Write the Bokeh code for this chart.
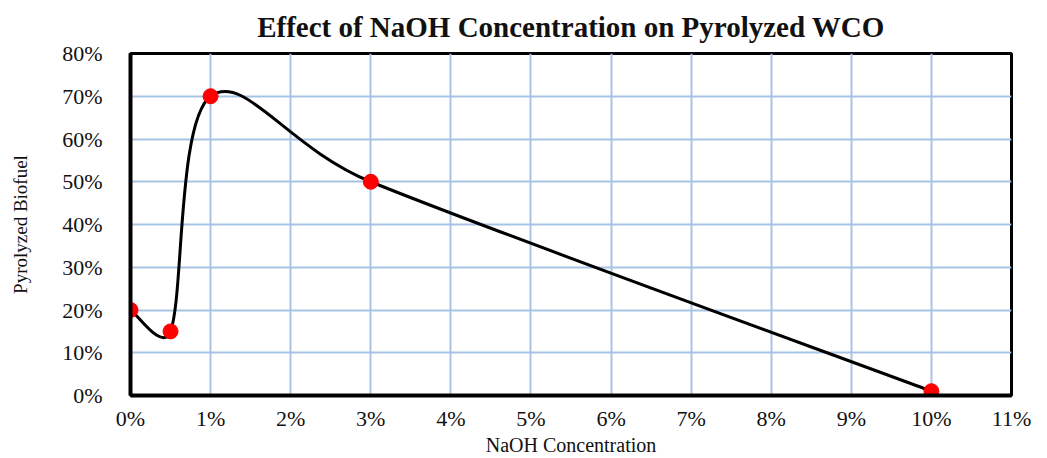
import math
from bokeh.plotting import figure
from bokeh.models import NumeralTickFormatter, FixedTicker, Range1d
from bokeh.embed import file_html
from bokeh.resources import INLINE

# ---- data ----
naoh = [0.0, 0.005, 0.01, 0.03, 0.10]
biofuel = [0.20, 0.15, 0.70, 0.50, 0.01]
x_ticks = [i / 100 for i in range(0, 12)]
y_ticks = [i / 100 for i in range(0, 81, 10)]

title = "Effect of NaOH Concentration on Pyrolyzed WCO"
x_label = "NaOH Concentration"
y_label = "Pyrolyzed Biofuel"

X0, X1 = 0.0, 0.11
Y0, Y1 = 0.0, 0.80

W, H = 1047, 458
BL, BR, BT, BB = 130, 36, 53, 63
FONT = "Liberation Serif"

p = figure(width=W, height=H, output_backend="svg", toolbar_location=None,
           x_range=Range1d(X0, X1), y_range=Range1d(Y0, Y1),
           min_border_left=BL, min_border_right=BR,
           min_border_top=BT, min_border_bottom=BB,
           title=title)

p.title.text_font = FONT
p.title.text_font_size = "29px"
p.title.text_font_style = "bold"
p.title.align = "center"
p.title.vertical_align = "top"
p.title.text_color = "#111111"
p.title.standoff = 18

# grid
p.xgrid.ticker = FixedTicker(ticks=x_ticks)
p.ygrid.ticker = FixedTicker(ticks=y_ticks)
p.grid.grid_line_color = "#A7C3E4"
p.grid.grid_line_width = 2

# axes
for ax in (p.xaxis[0], p.yaxis[0]):
    ax.formatter = NumeralTickFormatter(format="0%")
    ax.major_tick_line_color = None
    ax.minor_tick_line_color = None
    ax.major_tick_out = 0
    ax.major_tick_in = 0
    ax.minor_tick_out = 0
    ax.minor_tick_in = 0
    ax.axis_line_color = "black"
    ax.axis_line_width = 4
    ax.major_label_text_font = FONT
    ax.major_label_text_font_size = "22px"
    ax.major_label_text_color = "#111111"
    ax.axis_label_text_font = FONT
    ax.axis_label_text_font_style = "normal"
    ax.axis_label_text_color = "#111111"

p.xaxis.ticker = FixedTicker(ticks=x_ticks)
p.yaxis.ticker = FixedTicker(ticks=y_ticks)
p.xaxis.axis_label = x_label
p.yaxis.axis_label = y_label
p.xaxis.axis_label_text_font_size = "20px"
p.yaxis.axis_label_text_font_size = "19px"
p.xaxis.major_label_standoff = 10
p.yaxis.major_label_standoff = 28
p.xaxis.axis_label_standoff = 0
p.yaxis.axis_label_standoff = 28

p.outline_line_color = "black"
p.outline_line_width = 3
p.outline_line_alpha = 1.0

# ---- smoothed line (Excel-like Bezier smoothing, computed in pixel space) ----
fw = W - BL - BR
fh = H - BT - BB
sx = fw / (X1 - X0)
sy = fh / (Y1 - Y0)
pts = [(x * sx, y * sy) for x, y in zip(naoh, biofuel)]

def dist(a, b):
    return math.hypot(a[0] - b[0], a[1] - b[1])

x0s, y0s, x1s, y1s, cx0s, cy0s, cx1s, cy1s = [], [], [], [], [], [], [], []
n = len(pts)
for i in range(n - 1):
    P0 = pts[i - 1] if i > 0 else pts[i]
    P1 = pts[i]
    P2 = pts[i + 1]
    P3 = pts[i + 2] if i + 2 < n else pts[i + 1]
    d12 = dist(P1, P2)
    d02 = dist(P0, P2)
    d13 = dist(P1, P3)
    f1 = 1 / 6
    f2 = 1 / 6
    if d02 / 6 >= d12 / 2 and d02 > 0:
        f1 = d12 / (2 * d02)
    if d13 / 6 >= d12 / 2 and d13 > 0:
        f2 = d12 / (2 * d13)
    C1 = (P1[0] + (P2[0] - P0[0]) * f1, P1[1] + (P2[1] - P0[1]) * f1)
    C2 = (P2[0] - (P3[0] - P1[0]) * f2, P2[1] - (P3[1] - P1[1]) * f2)
    x0s.append(P1[0] / sx); y0s.append(P1[1] / sy)
    x1s.append(P2[0] / sx); y1s.append(P2[1] / sy)
    cx0s.append(C1[0] / sx); cy0s.append(C1[1] / sy)
    cx1s.append(C2[0] / sx); cy1s.append(C2[1] / sy)

p.bezier(x0=x0s, y0=y0s, x1=x1s, y1=y1s, cx0=cx0s, cy0=cy0s, cx1=cx1s, cy1=cy1s,
         line_color="black", line_width=3)

p.scatter(naoh, biofuel, size=15, marker="circle", fill_color="#FF0000",
          line_color="#FF0000")

open("out.html", "w").write(file_html(p, INLINE))
